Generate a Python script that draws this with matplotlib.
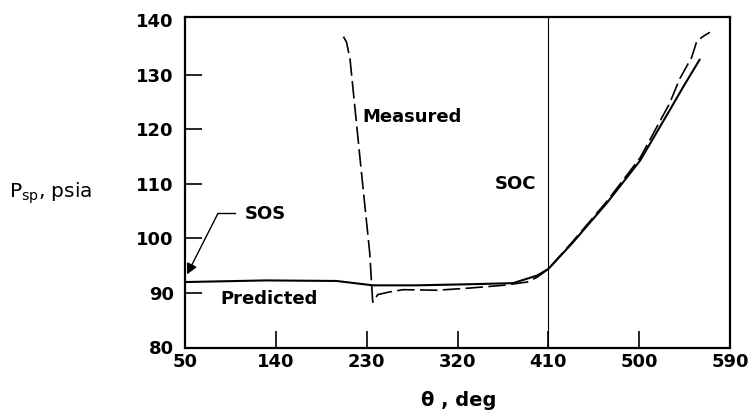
import matplotlib
matplotlib.use("Agg")
import matplotlib.pyplot as plt

# ---- data ----
theta_pred = [50, 130, 200, 236, 280, 332, 375, 399, 410, 434, 468, 501, 528, 544, 560]
p_pred = [92.0, 92.3, 92.2, 91.4, 91.4, 91.6, 91.8, 93.2, 94.4, 99.2, 106.5, 114.3, 122.8, 127.9, 132.8]

theta_meas = [207, 210, 213.5, 223.5, 233, 236, 241, 253, 266, 300, 332, 365, 389, 399, 410,
              434, 468, 501, 530, 540, 552, 557, 563, 570]
p_meas = [137.0, 136.0, 132.9, 114.5, 97.4, 88.3, 89.7, 90.2, 90.6, 90.5, 90.9, 91.4, 92.0, 92.9, 94.4,
          99.4, 106.8, 114.8, 124.7, 129.2, 133.2, 136.1, 137.0, 137.8]

x_ticks = [50, 140, 230, 320, 410, 500, 590]
y_ticks = [80, 90, 100, 110, 120, 130, 140]
soc_theta = 410

FONT = "DejaVu Sans"

fig = plt.figure(figsize=(7.53, 4.12), dpi=100)
ax = fig.add_axes([185 / 753, (412 - 347.5) / 412, 545 / 753, (347.5 - 17) / 412])

ax.plot(theta_pred, p_pred, color="black", lw=1.5, solid_capstyle="round")
ax.plot(theta_meas, p_meas, color="black", lw=1.2, dashes=(10.5, 3.2))
ax.axvline(soc_theta, color="black", lw=0.8)

ax.set_xlim(50, 590)
ax.set_ylim(80, 140.6)
ax.set_xticks(x_ticks)
ax.set_yticks(y_ticks)
ax.set_xticklabels([str(v) for v in x_ticks], fontfamily=FONT, fontweight="bold", fontsize=13)
ax.set_yticklabels([str(v) for v in y_ticks], fontfamily=FONT, fontweight="bold", fontsize=13)
ax.tick_params(axis="both", direction="in", length=12, width=1.2, color="black")
ax.tick_params(axis="y", pad=8)
ax.tick_params(axis="x", pad=4)
# corner ticks are not drawn in the reference
for t in (ax.yaxis.get_major_ticks()[0], ax.yaxis.get_major_ticks()[-1],
          ax.xaxis.get_major_ticks()[0], ax.xaxis.get_major_ticks()[-1]):
    t.tick1line.set_visible(False)
for s in ax.spines.values():
    s.set_linewidth(1.6)

# text labels
ax.text(226, 122.2, "Measured", fontfamily=FONT, fontweight="bold", fontsize=13,
        ha="left", va="center")
ax.text(85, 88.9, "Predicted", fontfamily=FONT, fontweight="bold", fontsize=13,
        ha="left", va="center")
ax.text(398, 109.9, "SOC", fontfamily=FONT, fontweight="bold", fontsize=13,
        ha="right", va="center")
ax.text(109.5, 104.4, "SOS", fontfamily=FONT, fontweight="bold", fontsize=13,
        ha="left", va="center")
ax.plot([82.7, 100], [104.6, 104.6], color="black", lw=1.0)
ax.annotate("", xy=(52, 93.4), xytext=(82.7, 104.6),
            arrowprops=dict(arrowstyle="-|>", lw=1.0, color="black",
                            mutation_scale=16, shrinkA=0, shrinkB=0))

fig.text(9 / 753, 1 - 193 / 412, r"P$_{\mathregular{sp}}$, psia", fontfamily=FONT,
         fontsize=14.5, ha="left", va="center")
fig.text(459 / 753, 1 - 400 / 412, "θ , deg", fontfamily=FONT, fontweight="bold",
         fontsize=14, ha="center", va="center")

fig.savefig("out.png", dpi=100)
